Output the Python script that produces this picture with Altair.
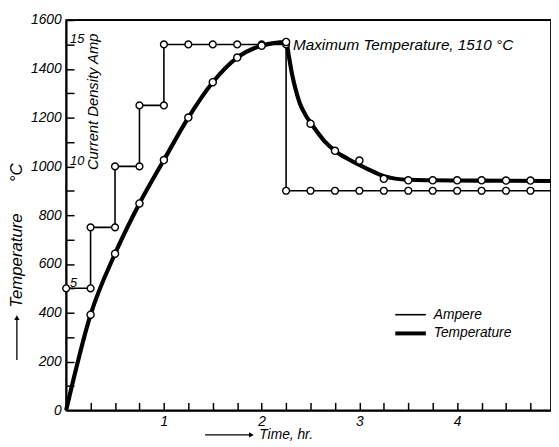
import altair as alt
import pandas as pd

FONT = "Liberation Sans"
W, H = 492, 396

# Current density (Ampere) step programme, hr / A
amp_time = [0, 0.25, 0.25, 0.5, 0.5, 0.75, 0.75, 1.0, 1.0, 1.25, 1.5, 1.75, 2.0, 2.25,
            2.25, 2.5, 2.75, 3.0, 3.25, 3.5, 3.75, 4.0, 4.25, 4.5, 4.75, 5.0]
amp_value = [5, 5, 7.5, 7.5, 10, 10, 12.5, 12.5, 15, 15, 15, 15, 15, 15,
             9, 9, 9, 9, 9, 9, 9, 9, 9, 9, 9, 9]
amp_marker = [True] * 25 + [False]

# Measured temperatures (circles), hr / degC
obs_time = [0.25, 0.5, 0.75, 1.0, 1.25, 1.5, 1.75, 2.0, 2.25, 2.5, 2.75, 3.0, 3.25,
            3.5, 3.75, 4.0, 4.25, 4.5, 4.75]
obs_temp = [392, 642, 848, 1026, 1200, 1345, 1446, 1495, 1510, 1175, 1064, 1024, 949,
            943, 943, 943, 943, 942, 942]

# Smooth temperature curve
curve_time = [0, 0.25, 0.5, 0.75, 1.0, 1.25, 1.5, 1.75, 2.0, 2.25, 2.28, 2.31, 2.34,
              2.39, 2.45, 2.5, 2.64, 2.75, 2.88, 3.08, 3.25, 3.5, 3.75, 4.0, 4.5, 5.0]
curve_temp = [0, 392, 642, 848, 1026, 1200, 1345, 1446, 1495, 1510, 1448, 1380, 1327,
              1259, 1210, 1180, 1105, 1064, 1031, 990, 960, 945, 943, 942, 941, 940]

x_ticks = [0.25 * i for i in range(1, 20)]
y_ticks = [100 * i for i in range(1, 17)]
x_labels = [1, 2, 3, 4, 5]
y_labels = [0, 200, 400, 600, 800, 1000, 1200, 1400, 1600]
amp_labels = [5, 10, 15]
x_max, y_max = 5, 1600

xs = alt.Scale(domain=[0, 4.96], nice=False, zero=False)
ys = alt.Scale(domain=[0, 1600], nice=False)

amp_df = pd.DataFrame({"t": amp_time, "a": amp_value, "m": amp_marker,
                       "i": list(range(len(amp_time)))})
obs_df = pd.DataFrame({"t": obs_time, "T": obs_temp})
curve_df = pd.DataFrame({"t": curve_time, "T": curve_temp})
border_df = pd.DataFrame({"t": [0, x_max], "T": [y_max, y_max]})
one = pd.DataFrame({"k": [0]})

# main axes: labels and axis lines
X = alt.X("t:Q", scale=xs, title="",
          axis=alt.Axis(values=x_labels, ticks=False, labelPadding=4, labelFontSize=14,
                        format="d", orient="bottom"))
Y = alt.Y("T:Q", scale=ys, title="",
          axis=alt.Axis(values=y_labels, ticks=False, labelPadding=5, labelFontSize=14,
                        format="d", orient="left"))
# second axes: only the inward ticks (axis shifted 8px into the plot)
XT = alt.X("t:Q", scale=xs, title="",
           axis=alt.Axis(values=x_ticks, ticks=True, tickSize=8, tickWidth=1.5,
                         tickColor="black", labels=False, domain=False,
                         offset=-8, orient="bottom"))
YT = alt.Y("T:Q", scale=ys, title="",
           axis=alt.Axis(values=y_ticks, ticks=True, tickSize=8, tickWidth=1.5,
                         tickColor="black", labels=False, domain=False,
                         offset=-8, orient="left"))
XN = alt.X("t:Q", scale=xs, axis=None)
YN = alt.Y("T:Q", scale=ys, axis=None)

curve = alt.Chart(curve_df).mark_line(color="black", strokeWidth=4.2,
                                      interpolate="monotone").encode(x=X, y=Y)
border = alt.Chart(border_df).mark_line(color="black", strokeWidth=1.8).encode(
    x=XT, y=YT)
obs = alt.Chart(obs_df).mark_circle(size=52, fill="white", stroke="black",
                                    strokeWidth=1.4, opacity=1).encode(x=XN, y=YN)

amp_base = alt.Chart(amp_df).transform_calculate(T="datum.a * 100")
amp_line = amp_base.mark_line(color="black", strokeWidth=1.6).encode(
    x=XN, y=YN, order="i:Q")
amp_pts = amp_base.transform_filter("datum.m").mark_circle(
    size=48, fill="white", stroke="black", strokeWidth=1.4, opacity=1).encode(
    x=XN, y=YN)

amp_lab = alt.Chart(pd.DataFrame({"a": amp_labels})).transform_calculate(
    T="datum.a * 100", s="''+datum.a").mark_text(
    font=FONT, fontStyle="italic", fontSize=13, align="left", baseline="middle",
    dx=4, dy=-5, color="black").encode(y=YN, x=alt.value(0), text="s:N")

peak_i = obs_temp.index(max(obs_temp))
peak = alt.Chart(pd.DataFrame({"t": [obs_time[peak_i]], "T": [obs_temp[peak_i]]})).mark_text(
    text="Maximum Temperature, 1510 °C", font=FONT, fontStyle="italic", fontSize=15.5,
    align="left", baseline="middle", dx=7, dy=3, color="black").encode(x=XN, y=YN)


def label(text, x, y, size=14, angle=0, align="center"):
    return alt.Chart(one).mark_text(
        text=text, font=FONT, fontStyle="italic", fontSize=size, angle=angle,
        align=align, baseline="middle", color="black").encode(
        x=alt.value(x), y=alt.value(y))


def rule(x1, x2, y1, y2, w):
    return alt.Chart(one).mark_rule(color="black", strokeWidth=w).encode(
        x=alt.value(x1), x2=alt.value(x2), y=alt.value(y1), y2=alt.value(y2))


def head(x, y, shape):
    return alt.Chart(one).mark_point(shape=shape, filled=True, color="black",
                                     size=30, opacity=1).encode(
        x=alt.value(x), y=alt.value(y))


texts = [
    label("Current Density Amp", 27, 83, size=15, angle=270),
    label("Temperature", -50, 244, size=17, angle=270),
    label("°C", -50, 155, size=17, angle=270),
    rule(-50, -50, 345, 303, 1.3),
    head(-50, 302, "triangle-up"),
    rule(141, 187, 421, 421, 1.3),
    head(188, 421, "triangle-right"),
    label("Time, hr.", 196, 421, size=14, align="left"),
    rule(334, 365, 299, 299, 1.6),
    rule(334, 365, 318, 318, 4),
    label("Ampere", 373, 299, size=14, align="left"),
    label("Temperature", 373, 318, size=14, align="left"),
]

chart = alt.layer(curve, border, amp_line, amp_pts, obs, amp_lab, peak,
                  *texts).resolve_axis(x="independent", y="independent").properties(
    width=W, height=H,
    autosize=alt.AutoSizeParams(type="none"),
    padding={"left": 59, "top": 9, "right": 0, "bottom": 31},
).configure_view(stroke="black", strokeWidth=1.8).configure_axis(
    labelFont=FONT, labelFontStyle="italic", labelColor="black",
    domainColor="black", domainWidth=1.8, grid=False,
)

chart.save("out.html", embed_options={"renderer": "svg", "actions": False})
